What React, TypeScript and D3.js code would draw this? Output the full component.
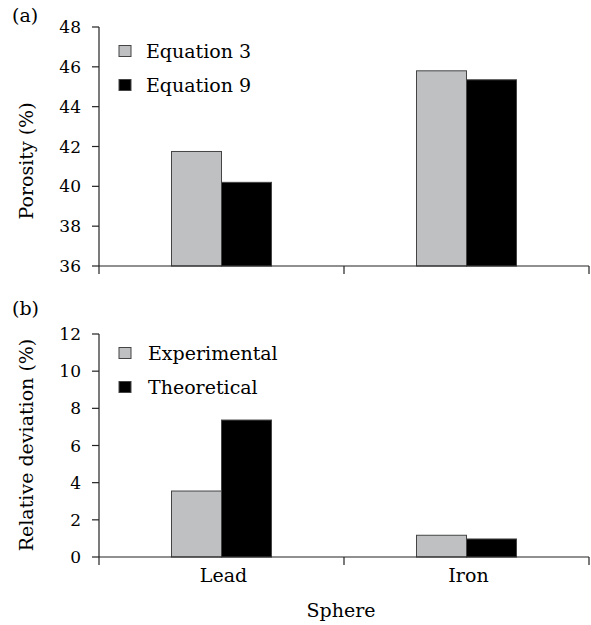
import * as d3 from 'd3'

const spheres = ['Lead', 'Iron']

// panel (a) porosity
const porosityKeys = ['Equation 3', 'Equation 9']
const porosityEq3 = [41.75, 45.8]
const porosityEq9 = [40.2, 45.35]
const porosityTicks = [36, 38, 40, 42, 44, 46, 48]

// panel (b) relative deviation
const deviationKeys = ['Experimental', 'Theoretical']
const deviationExp = [3.55, 1.17]
const deviationTheo = [7.37, 0.97]
const deviationTicks = [0, 2, 4, 6, 8, 10, 12]

const colors = ['#bfc0c2', '#000000']
const font = "'DejaVu Serif', 'Liberation Serif', serif"
const fs = 17
const labelFs = 19
const W = 591
const H = 625
const left = 99
const right = 589

type PanelProps = {
  top: number
  bottom: number
  domain: [number, number]
  ticks: number[]
  series: number[][]
  keys: string[]
  tag: string
  tagY: number
  ylabel: string
  ylabelY: number
  legendY: number
  legendTextX: number
}

function Panel({ top, bottom, domain, ticks, series, keys, tag, tagY, ylabel, ylabelY, legendY, legendTextX }: PanelProps) {
  const x = d3.scaleBand().domain(spheres).range([left, right])
  const y = d3.scaleLinear().domain(domain).range([bottom, top])
  const bw = 50
  return (
    <g>
      <text x={12} y={tagY} fontSize={labelFs}>{tag}</text>
      {series.map((vals, si) =>
        vals.map((v, ci) => {
          const cx = x(spheres[ci])! + x.bandwidth() / 2
          const x0 = cx - bw + si * bw
          return (
            <rect key={si + '-' + ci} x={x0} y={y(v)} width={bw} height={y(domain[0]) - y(v)}
              fill={colors[si]} stroke="#444" strokeWidth={1} />
          )
        })
      )}
      <line x1={left} x2={left} y1={top} y2={bottom + 8} stroke="#222" strokeWidth={1.2} />
      <line x1={left} x2={right} y1={bottom} y2={bottom} stroke="#222" strokeWidth={1.2} />
      {spheres.map(s => (
        <line key={s} x1={x(s)! + x.bandwidth()} x2={x(s)! + x.bandwidth()} y1={bottom} y2={bottom + 8} stroke="#222" strokeWidth={1.2} />
      ))}
      {ticks.map(t => (
        <g key={t}>
          <line x1={left - 7} x2={left} y1={y(t)} y2={y(t)} stroke="#222" strokeWidth={1.2} />
          <text x={81} y={y(t)} dy="0.36em" textAnchor="end" fontSize={fs}>{t}</text>
        </g>
      ))}
      <text transform={`translate(33,${ylabelY}) rotate(-90)`} textAnchor="middle" fontSize={labelFs}>{ylabel}</text>
      {keys.map((k, i) => (
        <g key={k}>
          <rect x={119} y={legendY + i * 34 - 5.5} width={12} height={11} fill={colors[i]} stroke="#444" strokeWidth={1} />
          <text x={legendTextX} y={legendY + i * 34} dy="0.36em" fontSize={labelFs}>{k}</text>
        </g>
      ))}
    </g>
  )
}

export default function App() {
  const xb = d3.scaleBand().domain(spheres).range([left, right])
  return (
    <svg width={W} height={H} style={{ position: 'absolute', left: 0, top: 0, background: '#fff', fontFamily: font }} fill="#000">
      <Panel top={27} bottom={266} domain={[36, 48]} ticks={porosityTicks} series={[porosityEq3, porosityEq9]}
        keys={porosityKeys} tag="(a)" tagY={22} ylabel="Porosity (%)" ylabelY={161} legendY={51} legendTextX={146} />
      <Panel top={334} bottom={557} domain={[0, 12]} ticks={deviationTicks} series={[deviationExp, deviationTheo]}
        keys={deviationKeys} tag="(b)" tagY={315} ylabel="Relative deviation (%)" ylabelY={445} legendY={353} legendTextX={148} />
      {spheres.map(s => (
        <text key={s} x={xb(s)! + xb.bandwidth() / 2 + 2} y={582} textAnchor="middle" fontSize={labelFs}>{s}</text>
      ))}
      <text x={341} y={617} textAnchor="middle" fontSize={labelFs}>Sphere</text>
    </svg>
  )
}
